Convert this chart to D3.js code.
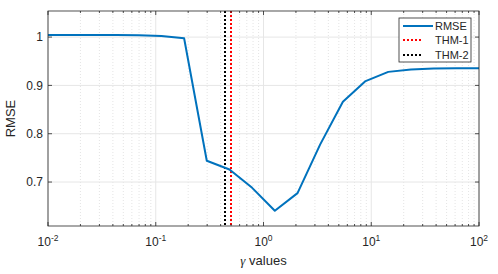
<!DOCTYPE html>
<html>
<head>
<meta charset="utf-8">
<script src="https://cdn.jsdelivr.net/npm/d3@7"></script>
<style>
  body { margin: 0; background: #fff; }
  text { font-family: "Liberation Sans", Arial, sans-serif; fill: #262626; }
</style>
</head>
<body>
<div id="chart"></div>
<script>
// gamma values (logspace from 1e-2 to 1e2, 20 points)
const gammas = [0.01, 0.01624, 0.02637, 0.04281, 0.06952, 0.1129, 0.1833, 0.2976, 0.4833, 0.7848,
                1.2743, 2.0691, 3.3598, 5.4556, 8.8587, 14.3845, 23.3572, 37.9269, 61.5848, 100];
const rmse = [1.0045, 1.0045, 1.0044, 1.0042, 1.0038, 1.0025, 0.9975, 0.744, 0.726, 0.688,
              0.6405, 0.677, 0.778, 0.866, 0.909, 0.928, 0.933, 0.935, 0.9355, 0.9355];
const thm1 = 0.5;
const thm2 = 0.437;
const xTicks = [-2, -1, 0, 1, 2];
const yTicks = [0.7, 0.8, 0.9, 1];
const legendItems = [
  { name: "RMSE", color: "#0072BD", dash: null, width: 2, len: 30 },
  { name: "THM-1", color: "#FF0000", dash: "2,2", width: 2, len: 20 },
  { name: "THM-2", color: "#000000", dash: "2,2", width: 2, len: 20 }
];

const W = 498, H = 274;
const margin = { top: 11, left: 48, right: 19, bottom: 48 };
const width = W - margin.left - margin.right,
      height = H - margin.top - margin.bottom;

const svg = d3.select("#chart").append("svg")
  .attr("width", W).attr("height", H);

const g = svg.append("g")
  .attr("transform", "translate(" + margin.left + "," + margin.top + ")");

const x = d3.scaleLog().domain([0.01, 100]).range([0, width]);
const y = d3.scaleLinear().domain([0.609, 1.054]).range([height, 0]);

// minor values
const minor = [];
for (let e = -2; e < 2; e++) for (let m = 2; m <= 9; m++) minor.push(m * Math.pow(10, e));

// minor grid (x)
g.append("g").selectAll("line").data(minor).enter().append("line")
  .attr("x1", d => x(d)).attr("x2", d => x(d))
  .attr("y1", 0).attr("y2", height)
  .attr("stroke", "#d2d2d2").attr("stroke-width", 0.6)
  .attr("stroke-dasharray", "1,2");

// major grid
g.append("g").selectAll("line").data(xTicks).enter().append("line")
  .attr("x1", d => x(Math.pow(10, d))).attr("x2", d => x(Math.pow(10, d)))
  .attr("y1", 0).attr("y2", height)
  .attr("stroke", "#e6e6e6").attr("stroke-width", 1);
g.append("g").selectAll("line").data(yTicks).enter().append("line")
  .attr("x1", 0).attr("x2", width)
  .attr("y1", d => y(d)).attr("y2", d => y(d))
  .attr("stroke", "#e6e6e6").attr("stroke-width", 1);

// vertical threshold lines
g.append("line")
  .attr("x1", Math.round(x(thm2))).attr("x2", Math.round(x(thm2))).attr("y1", 0).attr("y2", height)
  .attr("stroke", "#000").attr("stroke-width", 2).attr("stroke-dasharray", "2,2")
  .attr("shape-rendering", "crispEdges");
g.append("line")
  .attr("x1", Math.round(x(thm1))).attr("x2", Math.round(x(thm1))).attr("y1", 0).attr("y2", height)
  .attr("stroke", "#FF0000").attr("stroke-width", 2).attr("stroke-dasharray", "2,2")
  .attr("shape-rendering", "crispEdges");

// rmse line
const line = d3.line().x((d, i) => x(gammas[i])).y(d => y(d));
g.append("path").datum(rmse)
  .attr("d", line)
  .attr("fill", "none").attr("stroke", "#0072BD").attr("stroke-width", 2)
  .attr("stroke-linejoin", "round");

// axes box
g.append("rect").attr("width", width).attr("height", height)
  .attr("fill", "none").attr("stroke", "#262626").attr("stroke-width", 0.8);

// ticks
const tk = g.append("g").attr("stroke", "#262626").attr("stroke-width", 0.8);
xTicks.forEach(d => {
  const px = x(Math.pow(10, d));
  tk.append("line").attr("x1", px).attr("x2", px).attr("y1", height).attr("y2", height - 4);
  tk.append("line").attr("x1", px).attr("x2", px).attr("y1", 0).attr("y2", 4);
});
minor.forEach(d => {
  tk.append("line").attr("x1", x(d)).attr("x2", x(d)).attr("y1", height).attr("y2", height - 2);
  tk.append("line").attr("x1", x(d)).attr("x2", x(d)).attr("y1", 0).attr("y2", 2);
});
yTicks.forEach(d => {
  tk.append("line").attr("x1", 0).attr("x2", 4).attr("y1", y(d)).attr("y2", y(d));
  tk.append("line").attr("x1", width).attr("x2", width - 4).attr("y1", y(d)).attr("y2", y(d));
});

// x tick labels
xTicks.forEach(d => {
  const t = g.append("text")
    .attr("x", x(Math.pow(10, d))).attr("y", height + 20)
    .attr("text-anchor", "middle").attr("font-size", 12);
  t.append("tspan").text("10");
  t.append("tspan").attr("dy", -5).attr("font-size", 8.5).text(d);
});

// y tick labels
yTicks.forEach(d => {
  g.append("text")
    .attr("x", -5).attr("y", y(d)).attr("dy", "0.35em")
    .attr("text-anchor", "end").attr("font-size", 12)
    .text(d3.format("")(d));
});

// axis titles
const xl = g.append("text")
  .attr("x", width / 2).attr("y", height + 39)
  .attr("text-anchor", "middle").attr("font-size", 13);
xl.append("tspan").attr("font-family", "'Liberation Serif', serif").attr("font-style", "italic").text("γ");
xl.append("tspan").text(" values");

g.append("text")
  .attr("transform", "translate(" + (-33) + "," + (height / 2) + ") rotate(-90)")
  .attr("text-anchor", "middle").attr("font-size", 13)
  .text("RMSE");

// legend
const lg = svg.append("g").attr("transform", "translate(399,18)");
lg.append("rect").attr("width", 72).attr("height", 44)
  .attr("fill", "#fff").attr("stroke", "#262626").attr("stroke-width", 0.8);
legendItems.forEach((d, i) => {
  const yy = Math.round(7.5 + i * 14.5);
  lg.append("line").attr("x1", 4).attr("x2", 4 + d.len).attr("y1", yy).attr("y2", yy)
    .attr("stroke", d.color).attr("stroke-width", d.width)
    .attr("stroke-dasharray", d.dash)
    .attr("shape-rendering", d.dash ? "crispEdges" : null);
  lg.append("text").attr("x", 36).attr("y", yy).attr("dy", "0.35em")
    .attr("font-size", 11).text(d.name);
});
</script>
</body>
</html>
